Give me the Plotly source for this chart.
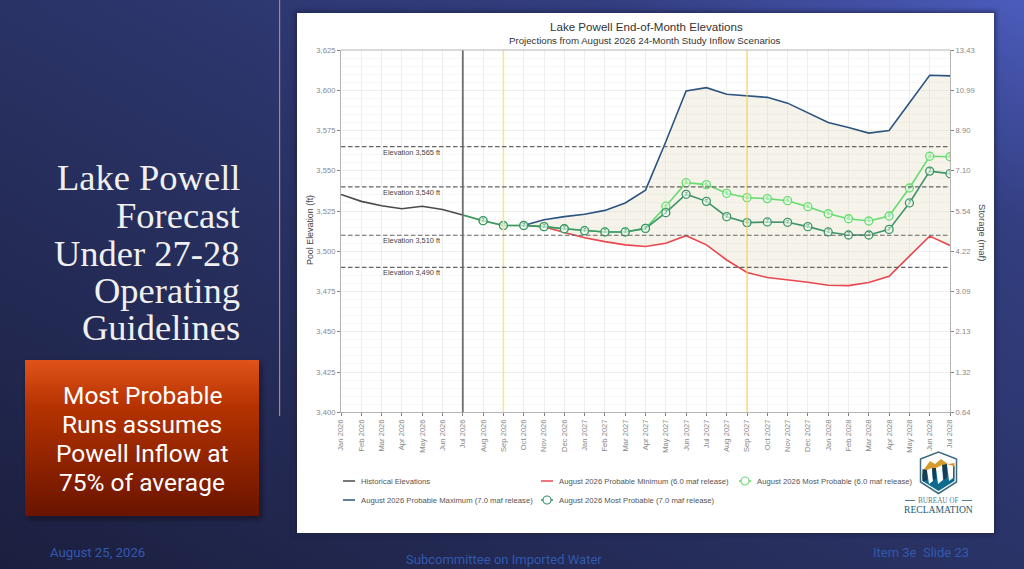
import base64

import plotly.graph_objects as go

# ---- data ----
months = [
    'Jan 2026', 'Feb 2026', 'Mar 2026', 'Apr 2026', 'May 2026', 'Jun 2026', 'Jul 2026',
    'Aug 2026', 'Sep 2026', 'Oct 2026', 'Nov 2026', 'Dec 2026',
    'Jan 2027', 'Feb 2027', 'Mar 2027', 'Apr 2027', 'May 2027', 'Jun 2027', 'Jul 2027',
    'Aug 2027', 'Sep 2027', 'Oct 2027', 'Nov 2027', 'Dec 2027',
    'Jan 2028', 'Feb 2028', 'Mar 2028', 'Apr 2028', 'May 2028', 'Jun 2028', 'Jul 2028',
]
months_hist = months[:7]       # Jan 2026 - Jul 2026
months_most = months[7:]       # Aug 2026 - Jul 2028
months_range = months[9:]      # Oct 2026 - Jul 2028

historical = [3535.3, 3531.0, 3528.3, 3526.4, 3528.0, 3526.0, 3522.5]
most_7 = [3519.0, 3516.0, 3516.0, 3515.3, 3514.0, 3512.8, 3512.0, 3512.0, 3514.2, 3524.0, 3535.4, 3531.0,
          3521.5, 3517.8, 3518.2, 3518.0, 3515.3, 3512.0, 3510.1, 3510.1, 3513.6, 3530.0, 3549.8, 3548.2]
most_6 = [3519.0, 3516.0, 3516.0, 3515.3, 3514.0, 3512.8, 3512.0, 3512.0, 3514.2, 3528.0, 3542.6, 3541.4,
          3536.0, 3533.3, 3532.7, 3531.4, 3527.7, 3523.3, 3520.2, 3518.8, 3521.9, 3539.3, 3559.0, 3558.7]
prob_max = [3516.0, 3519.6, 3521.5, 3523.0, 3525.4, 3530.0, 3538.0, 3568.0, 3599.5, 3601.6, 3597.5,
            3596.4, 3595.6, 3592.0, 3586.0, 3580.0, 3576.9, 3573.4, 3575.0, 3592.0, 3609.3, 3608.9]
prob_min = [3516.0, 3515.3, 3511.6, 3508.4, 3506.0, 3504.0, 3503.0, 3505.0, 3509.7, 3504.0, 3494.6,
            3486.8, 3483.7, 3482.4, 3480.8, 3478.9, 3478.7, 3480.6, 3484.5, 3497.0, 3509.4, 3503.6]

elev_ticks = [3400, 3425, 3450, 3475, 3500, 3525, 3550, 3575, 3600, 3625]
storage_ticks = ['0.64', '1.32', '2.13', '3.09', '4.22', '5.54', '7.10', '8.90', '10.99', '13.43']
elev_refs = [3565, 3540, 3510, 3490]

name_hist = 'Historical Elevations'
name_min = 'August 2026 Probable Minimum (6.0 maf release)'
name_m6 = 'August 2026 Most Probable (6.0 maf release)'
name_max = 'August 2026 Probable Maximum (7.0 maf release)'
name_m7 = 'August 2026 Most Probable (7.0 maf release)'

title_lines = ['Lake Powell', 'Forecast', 'Under 27-28', 'Operating', 'Guidelines']
box_lines = ['Most Probable', 'Runs assumes', 'Powell Inflow at', '75% of average']

C_HIST, C_MAX, C_MIN = '#4a4a4a', '#2b5480', '#e8474f'
C_M7, C_M6 = '#3f9468', '#66dc70'
C_FOOT = '#3259ad'
SANS = 'Liberation Sans, Arial, sans-serif'
W, H = 1024, 569


def fx(px):
    return px / W


def fy(py):
    return 1 - py / H


# slide backdrop, white panel, orange box and the logo
backdrop = f'''<svg xmlns="http://www.w3.org/2000/svg" width="{W}" height="{H}" viewBox="0 0 {W} {H}">
<defs>
<linearGradient id="bg" x1="0" y1="1" x2="1" y2="0">
<stop offset="0" stop-color="#1b1f3f"/><stop offset="0.5" stop-color="#2a3366"/>
<stop offset="0.8" stop-color="#333e80"/><stop offset="1" stop-color="#4b5cbc"/></linearGradient>
<linearGradient id="box" x1="0" y1="0" x2="0" y2="1">
<stop offset="0" stop-color="#e0531a"/><stop offset="0.3" stop-color="#b53200"/>
<stop offset="1" stop-color="#6a1400"/></linearGradient>
<clipPath id="sh"><polygon points="922.5,460 938.5,454 954.5,460 954.5,481 938.5,491 922.5,481"/></clipPath>
<filter id="blur"><feGaussianBlur stdDeviation="2"/></filter>
</defs>
<rect width="{W}" height="{H}" fill="url(#bg)"/>
<rect x="279" y="0" width="1.2" height="416" fill="#b57f86"/>
<rect x="294" y="11" width="702" height="524" fill="#1a2240" opacity="0.6" filter="url(#blur)"/>
<rect x="297" y="13" width="697" height="520" fill="#ffffff"/>
<rect x="27" y="363" width="234" height="156" fill="#120a18" opacity="0.6" filter="url(#blur)"/>
<rect x="25" y="360" width="234" height="156" fill="url(#box)"/>
<polygon points="920.5,459 938.5,452 956.5,459 956.5,482 938.5,493.5 920.5,482" fill="#ffffff" stroke="#3e6b7d" stroke-width="1.5"/>
<g clip-path="url(#sh)">
<polygon points="922,472 930,461 935,464 941,459 948,464 955,463 955,478 922,478" fill="#d59b2e"/>
<polygon points="922,474 955,466 955,492 922,492" fill="#0f6b8e"/>
<polygon points="927,470 932,468 933,481 929,484" fill="#ffffff"/>
<polygon points="936,468 942,465 943,480 938,484" fill="#ffffff"/>
<polygon points="947,464 953,466 953,478 949,481" fill="#ffffff"/>
<polygon points="922,469 927,470 927,480 922,482" fill="#123f57"/>
<polygon points="932,468 936,468 936,478 933,481" fill="#123f57"/>
<polygon points="942,465 947,464 947,477 944,480" fill="#123f57"/>
</g>
<rect x="905" y="500" width="10" height="1" fill="#56808f"/>
<rect x="962" y="500" width="10" height="1" fill="#56808f"/>
</svg>'''
backdrop_uri = 'data:image/svg+xml;base64,' + base64.b64encode(backdrop.encode()).decode()

fig = go.Figure()

# ribbon between probable max and min
fig.add_trace(go.Scatter(x=months_range, y=prob_min, mode='lines', line=dict(width=0),
                         showlegend=False, hoverinfo='skip'))
fig.add_trace(go.Scatter(x=months_range, y=prob_max, mode='lines', line=dict(width=0),
                         fill='tonexty', fillcolor='rgba(228,220,192,0.33)',
                         showlegend=False, hoverinfo='skip'))

fig.add_trace(go.Scatter(x=months_hist, y=historical, mode='lines', name=name_hist,
                         line=dict(color=C_HIST, width=1.6)))
fig.add_trace(go.Scatter(x=months_range, y=prob_min, mode='lines', name=name_min,
                         line=dict(color=C_MIN, width=1.6)))
fig.add_trace(go.Scatter(x=months_range, y=prob_max, mode='lines', name=name_max,
                         line=dict(color=C_MAX, width=1.6)))

# most probable runs: a line + open circle with the release digit inside
for vals, color, digit, name in [(most_6, C_M6, '6', name_m6), (most_7, C_M7, '7', name_m7)]:
    fig.add_trace(go.Scatter(x=[months_hist[-1], months_most[0]], y=[historical[-1], vals[0]], mode='lines',
                             line=dict(color=color, width=1.6), showlegend=False, hoverinfo='skip'))
    fig.add_trace(go.Scatter(x=months_most, y=vals, mode='lines+markers', name=name,
                             line=dict(color=color, width=1.6),
                             marker=dict(size=8, color='rgba(235,250,238,0.72)',
                                         line=dict(color=color, width=1.3))))
    fig.add_trace(go.Scatter(x=months_most, y=vals, mode='text', text=[digit] * len(vals),
                             textposition='middle center', textfont=dict(size=5.5, color=color, family=SANS),
                             showlegend=False, hoverinfo='skip'))

# keeps the storage axis alive on the right
fig.add_trace(go.Scatter(x=months[:1], y=elev_ticks[:1], yaxis='y2', mode='lines',
                         showlegend=False, hoverinfo='skip'))

# -------- vertical and reference lines --------
fig.add_shape(type='line', x0='Jul 2026', x1='Jul 2026', y0=0, y1=1, yref='y domain',
              line=dict(color='#6e6e6e', width=1.8))
fig.add_shape(type='line', x0='Sep 2026', x1='Sep 2026', y0=0, y1=1, yref='y domain',
              line=dict(color='#fbe08f', width=1.5))
fig.add_shape(type='line', x0='Sep 2027', x1='Sep 2027', y0=0, y1=1, yref='y domain',
              line=dict(color='#f9cf62', width=1.1))

annotations = []
for elev in elev_refs:
    fig.add_shape(type='line', x0=0, x1=1, xref='x domain', y0=elev, y1=elev,
                  line=dict(color='#666666', width=1.1, dash='4.5px,2.5px'))
    annotations.append(dict(x=3.45, y=elev - 3.4, xref='x', yref='y', showarrow=False,
                            text=f'Elevation {elev:,} ft', font=dict(size=7.4, color='#444444', family=SANS)))


def add_text(text, px, py, size, color, family=SANS, xanchor='center', angle=0):
    annotations.append(dict(x=fx(px), y=fy(py), xref='paper', yref='paper', text=text, showarrow=False,
                            xanchor=xanchor, yanchor='middle', textangle=angle,
                            font=dict(size=size, color=color, family=family)))


# chart titles and axis titles
add_text('Lake Powell End-of-Month Elevations', 646, 26, 11.6, '#333333')
add_text('Projections from August 2026 24-Month Study Inflow Scenarios', 645, 40, 9.7, '#333333')
add_text('Pool Elevation (ft)', 310, 230, 8.9, '#444444', angle=-90)
add_text('Storage (maf)', 982, 232, 9.4, '#444444', angle=90)

# -------- hand placed legend, ggplot style short keys --------
legend_rows = [(name_hist, C_HIST, False, 342, 481), (name_min, C_MIN, False, 540, 481),
               (name_m6, C_M6, True, 738, 481), (name_max, C_MAX, False, 342, 500),
               (name_m7, C_M7, True, 540, 500)]
for name, color, has_marker, px, py in legend_rows:
    fig.add_shape(type='line', xref='paper', yref='paper', x0=fx(px + 1), x1=fx(px + 13), y0=fy(py), y1=fy(py),
                  line=dict(color=color, width=1.5))
    if has_marker:
        fig.add_shape(type='circle', xref='paper', yref='paper', x0=fx(px + 3), x1=fx(px + 11),
                      y0=fy(py + 4), y1=fy(py - 4), fillcolor='#ffffff', line=dict(color=color, width=1.2))
    add_text(name, px + 17, py, 7.7, '#555555', xanchor='left')

# -------- slide text --------
for i, line in enumerate(title_lines):
    # first line sits a little higher so it clears "Forecast"
    add_text(line, 242, (177.5 if i == 0 else 179 + i * 37), 36.5, '#f0f0f0',
             family='Liberation Serif, serif', xanchor='right')
for i, line in enumerate(box_lines):
    add_text(line, 142, 395 + i * 29.3, 24.5, '#ffffff', family='Roboto, sans-serif')
add_text('August 25, 2026', 97.5, 552, 13.2, C_FOOT, family='Roboto, sans-serif')
add_text('Subcommittee on Imported Water', 504, 559, 13, C_FOOT, family='Roboto, sans-serif')
add_text('Item 3e&nbsp;&nbsp;Slide 23', 920.5, 552, 13, C_FOOT, family='Roboto, sans-serif')
add_text('BUREAU OF', 938.5, 500.5, 7.2, '#56808f', family='Liberation Serif, serif')
add_text('RECLAMATION', 938.5, 509.5, 9.6, '#235a70', family='Liberation Serif, serif')

axis_line = dict(showline=True, linecolor='#b4b4b4', linewidth=1.2, mirror=False, ticks='outside', ticklen=3,
                 tickcolor='#808080', tickfont=dict(size=7.6, color='#888888', family=SANS), zeroline=False)

fig.update_layout(
    width=W,
    height=H,
    margin=dict(l=0, r=0, t=0, b=0, autoexpand=False),
    paper_bgcolor='#1f2550',
    plot_bgcolor='rgba(0,0,0,0)',
    showlegend=False,
    annotations=annotations,
    images=[dict(source=backdrop_uri, xref='paper', yref='paper', x=0, y=1, sizex=1, sizey=1,
                 xanchor='left', yanchor='top', sizing='stretch', layer='below')],
    xaxis=dict(domain=[fx(341), fx(950)], type='category', categoryorder='array', categoryarray=months,
               range=[0, len(months) - 1], tickangle=-90, tickmode='array', tickvals=months,
               showgrid=True, gridcolor='#eeeeee', gridwidth=1, **axis_line),
    yaxis=dict(domain=[fy(412.3), fy(50)], range=[3400, 3625], tickmode='array', tickvals=elev_ticks,
               tickformat=',', showgrid=True, gridcolor='#eeeeee', gridwidth=1,
               minor=dict(dtick=5, tick0=3400, showgrid=True, gridcolor='#f7f7f7', gridwidth=1, ticks=''),
               **axis_line),
    yaxis2=dict(overlaying='y', side='right', anchor='x', range=[3400, 3625], tickmode='array',
                tickvals=elev_ticks, ticktext=storage_ticks, showgrid=False, **axis_line),
)
# top frame of the panel
fig.add_shape(type='line', xref='x domain', yref='y domain', x0=0, x1=1, y0=1, y1=1,
              line=dict(color='#b4b4b4', width=1.2))

fig.write_html('out.html', config={'displayModeBar': False},
               post_script="document.body.style.margin='0';document.body.style.overflow='hidden';")
